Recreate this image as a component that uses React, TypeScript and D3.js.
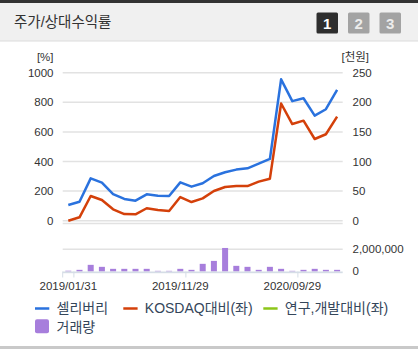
import { useRef, useEffect } from 'react';
import * as d3 from 'd3';

// month-end trading days
const dates = [
  '2019/01/31', '2019/02/28', '2019/03/29', '2019/04/30', '2019/05/31',
  '2019/06/28', '2019/07/31', '2019/08/30', '2019/09/30', '2019/10/31',
  '2019/11/29', '2019/12/30', '2020/01/31', '2020/02/28', '2020/03/31',
  '2020/04/29', '2020/05/29', '2020/06/30', '2020/07/31', '2020/08/31',
  '2020/09/29', '2020/10/30', '2020/11/30', '2020/12/30', '2021/01/29',
];
const labeledDates = ['2019/01/31', '2019/11/29', '2020/09/29'];

// 셀리버리 price, thousand won (right axis)
const price = [
  26.5, 32, 71.5, 64.3, 45, 36.8, 33.8, 44.5, 42.3, 41.8,
  64.8, 57.5, 63.3, 75.5, 81.8, 86.3, 88.5, 96.3, 104.3, 238.8,
  202, 206.8, 177.5, 188.3, 220.8,
];
// relative return vs KOSDAQ, % (left axis)
const vsKosdaq = [
  0, 23, 167, 140, 77, 45, 43, 84, 72, 66,
  160, 126, 151, 201, 228, 234, 234, 264, 284, 792,
  653, 676, 552, 584, 703,
];
// trading volume, shares
const volume = [
  70000, 150000, 600000, 420000, 240000, 240000, 240000, 240000, 60000, 60000,
  240000, 150000, 690000, 955000, 2120000, 510000, 420000, 150000, 420000, 240000,
  60000, 150000, 240000, 150000, 150000,
];

const leftTicks = [0, 200, 400, 600, 800, 1000];
const rightTicks = [0, 50, 100, 150, 200, 250];
const volTicks = [0, 2000000];

const FONT = "'Liberation Sans', 'Noto Sans CJK KR', sans-serif";
const BLUE = '#2a72de';
const RED = '#d4400a';
const GREEN = '#8cc619';
const PURPLE = '#a77edc';
const TEXT = '#333';
const LEGEND_TEXT = '#34465a';

export default function App() {
  const svgRef = useRef(null);

  useEffect(() => {
    if (!svgRef.current) return;
    const svg = d3.select(svgRef.current);
    svg.selectAll('*').remove();

    const x0 = 62.7;
    const x1 = 342.7;

    const x = d3.scalePoint().domain(dates).range([x0, x1]).padding(0.5);
    const half = x.step() / 2;
    const yLeft = d3.scaleLinear().domain([0, 1000]).range([220.7, 72.7]);
    const yRight = d3.scaleLinear().domain([0, 250]).range([220.7, 72.7]);
    const yVol = d3.scaleLinear().domain([0, 2000000]).range([271.5, 249.3]);

    // header
    svg.append('rect').attr('width', 418).attr('height', 41).attr('fill', '#f0f0f0');
    svg.append('rect').attr('width', 418).attr('height', 3).attr('fill', '#333');
    svg.append('rect').attr('y', 40.5).attr('width', 418).attr('height', 1).attr('fill', '#dcdcdc');
    svg.append('text')
      .attr('x', 14).attr('y', 27)
      .attr('font-family', FONT).attr('font-size', 14.5).attr('fill', TEXT)
      .text('주가/상대수익률');

    const buttons = [
      { label: '1', fill: '#2e2e2e', color: '#fff' },
      { label: '2', fill: '#a3a3a3', color: '#ececec' },
      { label: '3', fill: '#a3a3a3', color: '#ececec' },
    ];
    buttons.forEach((b, i) => {
      const bx = 316.5 + i * 31.5;
      svg.append('rect')
        .attr('x', bx).attr('y', 12.5).attr('width', 21.5).attr('height', 21)
        .attr('rx', 1.5).attr('fill', b.fill);
      svg.append('text')
        .attr('x', bx + 10.75).attr('y', 28.5)
        .attr('text-anchor', 'middle')
        .attr('font-family', FONT).attr('font-size', 15).attr('font-weight', 'bold')
        .attr('fill', b.color)
        .text(b.label);
    });

    // units
    svg.append('text')
      .attr('x', 53.5).attr('y', 61).attr('text-anchor', 'end')
      .attr('font-family', FONT).attr('font-size', 11.5).attr('fill', TEXT)
      .text('[%]');
    svg.append('text')
      .attr('x', 341.5).attr('y', 61)
      .attr('font-family', FONT).attr('font-size', 11.5).attr('fill', TEXT)
      .text('[천원]');

    // gridlines
    const grid = svg.append('g').attr('stroke', '#e2e2e2').attr('stroke-width', 1.5);
    leftTicks.forEach((t) => {
      grid.append('line').attr('x1', x0).attr('x2', x1).attr('y1', yLeft(t)).attr('y2', yLeft(t));
    });
    grid.append('line').attr('x1', x0).attr('x2', x1).attr('y1', 223.5).attr('y2', 223.5);
    grid.append('line').attr('x1', x0).attr('x2', x1)
      .attr('y1', yVol(2000000)).attr('y2', yVol(2000000));

    // tick labels
    const labels = svg.append('g')
      .attr('font-family', FONT).attr('font-size', 11.5).attr('fill', TEXT);
    leftTicks.forEach((t) => {
      labels.append('text')
        .attr('x', 53.5).attr('y', yLeft(t)).attr('dy', '0.36em')
        .attr('text-anchor', 'end').text(t);
    });
    rightTicks.forEach((t) => {
      labels.append('text')
        .attr('x', 352.5).attr('y', yRight(t)).attr('dy', '0.36em').text(t);
    });
    volTicks.forEach((t) => {
      labels.append('text')
        .attr('x', 352.5).attr('y', yVol(t) - 0.8).attr('dy', '0.36em')
        .text(d3.format(',')(t));
    });

    // volume bars
    svg.append('g')
      .selectAll('rect')
      .data(volume)
      .enter()
      .append('rect')
      .attr('x', (d, i) => (x(dates[i]) || 0) - 3)
      .attr('y', (d) => yVol(d))
      .attr('width', 6)
      .attr('height', (d) => yVol(0) - yVol(d))
      .attr('fill', PURPLE);

    // x axis band + ticks
    svg.append('rect')
      .attr('x', x0).attr('y', 271.5).attr('width', x1 - x0).attr('height', 1.7)
      .attr('fill', '#d5dde6');
    const tickXs = [x0, ...labeledDates.map((d) => (x(d) || 0) + half)];
    tickXs.forEach((tx) => {
      svg.append('line')
        .attr('x1', tx).attr('x2', tx).attr('y1', 271.5).attr('y2', 277.5)
        .attr('stroke', '#d5dde6').attr('stroke-width', 1);
    });
    labeledDates.forEach((d) => {
      labels.append('text')
        .attr('x', x(d) || 0).attr('y', 290)
        .attr('text-anchor', 'middle').text(d);
    });

    // lines
    const lineLeft = d3.line<number>()
      .x((d, i) => x(dates[i]) || 0)
      .y((d) => yLeft(d));
    const lineRight = d3.line<number>()
      .x((d, i) => x(dates[i]) || 0)
      .y((d) => yRight(d));

    svg.append('path')
      .datum(vsKosdaq)
      .attr('d', lineLeft)
      .attr('fill', 'none').attr('stroke', RED).attr('stroke-width', 2.5)
      .attr('stroke-linejoin', 'round');
    svg.append('path')
      .datum(price)
      .attr('d', lineRight)
      .attr('fill', 'none').attr('stroke', BLUE).attr('stroke-width', 2.5)
      .attr('stroke-linejoin', 'round');

    // legend
    const legend = svg.append('g')
      .attr('font-family', FONT).attr('font-size', 14).attr('fill', LEGEND_TEXT);
    const items = [
      { label: '셀리버리', color: BLUE, x: 35 },
      { label: 'KOSDAQ대비(좌)', color: RED, x: 123.3 },
      { label: '연구,개발대비(좌)', color: GREEN, x: 263.3 },
    ];
    items.forEach((it) => {
      legend.append('line')
        .attr('x1', it.x).attr('x2', it.x + 14.3).attr('y1', 308.5).attr('y2', 308.5)
        .attr('stroke', it.color).attr('stroke-width', 2.5);
      legend.append('text')
        .attr('x', it.x + 21.5).attr('y', 308).attr('dy', '0.36em').text(it.label);
    });
    legend.append('rect')
      .attr('x', 35).attr('y', 319.3).attr('width', 14).attr('height', 14)
      .attr('rx', 2).attr('fill', PURPLE);
    legend.append('text')
      .attr('x', 56.5).attr('y', 326.5).attr('dy', '0.36em').text('거래량');

    // bottom rule
    svg.append('rect')
      .attr('x', 0).attr('y', 346).attr('width', 418).attr('height', 3)
      .attr('fill', '#c9c9c9');
  }, []);

  return (
    <div style={{ position: 'absolute', left: 0, top: 0 }}>
      <svg
        ref={svgRef}
        width="418"
        height="352"
        viewBox="0 0 418 352"
        style={{ display: 'block', background: '#fff' }}
      />
    </div>
  );
}
